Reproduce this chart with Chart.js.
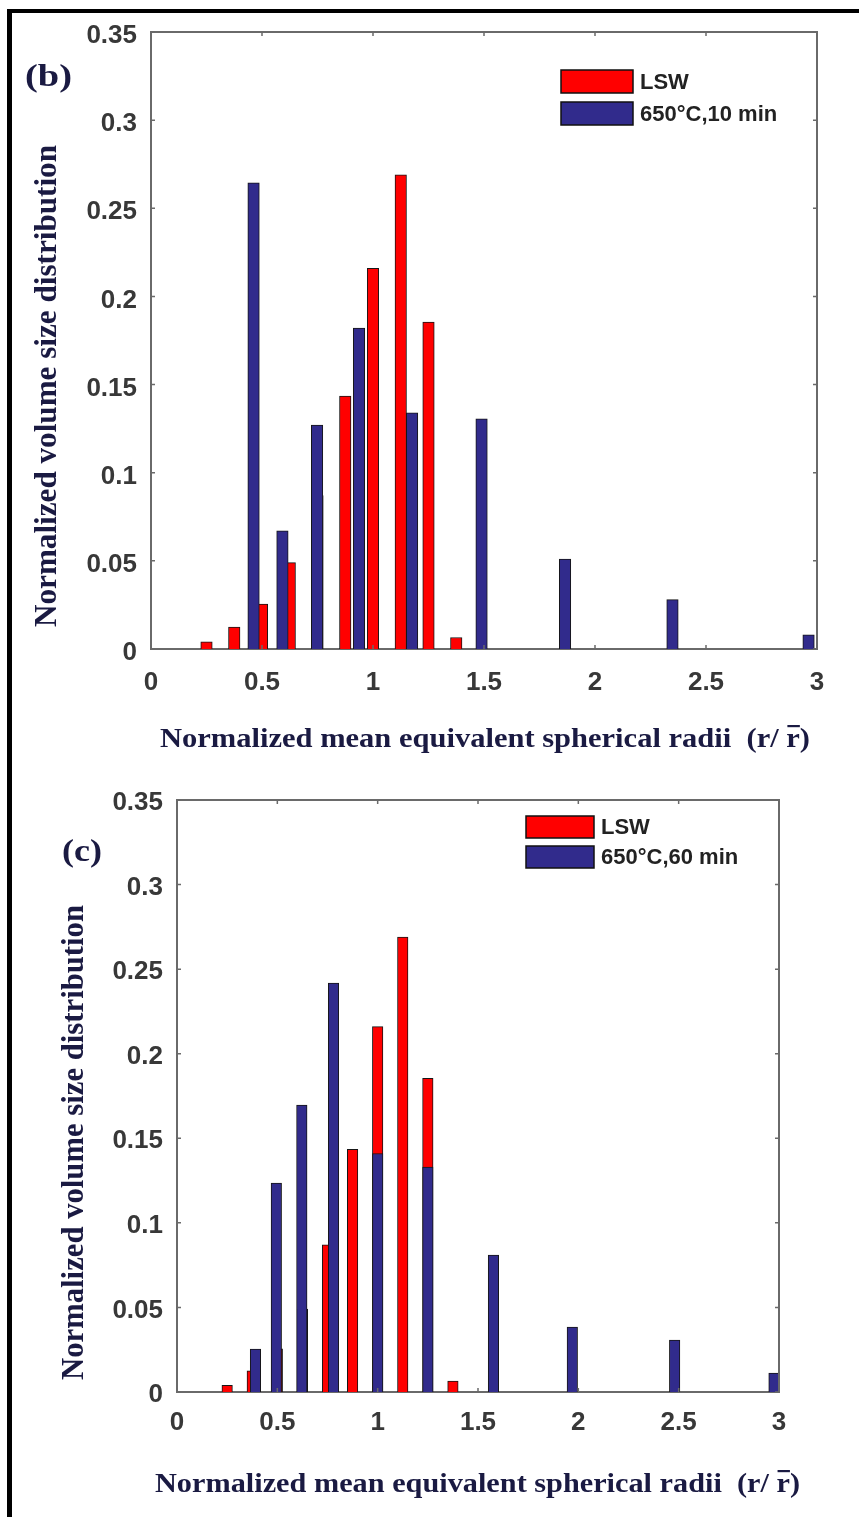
<!DOCTYPE html>
<html>
<head>
<meta charset="utf-8">
<title>Normalized volume size distribution</title>
<script src="https://cdn.jsdelivr.net/npm/chart.js@4.4.1/dist/chart.umd.min.js"></script>
<style>
  html, body { margin: 0; padding: 0; background: #fff; }
  #page { position: relative; width: 859px; height: 1517px; overflow: hidden; background: #fff; }
  .panel { position: absolute; left: 0; width: 859px; }
  #panelB { top: 0; height: 760px; }
  #panelC { top: 760px; height: 757px; }
  .frame { position: absolute; background: #000; z-index: 5; }
  #frameTop { left: 7px; top: 9px; width: 852px; height: 4px; }
  #frameLeft { left: 7px; top: 9px; width: 5px; height: 1508px; }
</style>
</head>
<body>
<div id="page">
  <div class="panel" id="panelB"><canvas id="chartB" width="859" height="760"></canvas></div>
  <div class="panel" id="panelC"><canvas id="chartC" width="859" height="757"></canvas></div>
  <div class="frame" id="frameTop"></div>
  <div class="frame" id="frameLeft"></div>
</div>
<script>
// ---- data -------------------------------------------------------------
// LSW theoretical distribution (same in both panels)
const lswRadii  = [0.125, 0.25, 0.375, 0.5, 0.625, 0.75, 0.875, 1.0, 1.125, 1.25, 1.375, 1.5];
const lswValues = [0, 0.004, 0.0125, 0.0255, 0.049, 0.087, 0.1435, 0.216, 0.269, 0.1855, 0.0065, 0];

// 650 °C, 10 min
const radii10  = [0.462, 0.592, 0.748, 0.937, 1.176, 1.489, 1.865, 2.349, 2.962];
const values10 = [0.2645, 0.067, 0.127, 0.182, 0.134, 0.1305, 0.051, 0.028, 0.008];

// 650 °C, 60 min
const radii60  = [0.391, 0.495, 0.622, 0.78, 1.0, 1.25, 1.577, 1.97, 2.48, 2.975];
const values60 = [0.0254, 0.1235, 0.1697, 0.2418, 0.141, 0.133, 0.081, 0.0384, 0.0307, 0.0112];

// axis ticks
const xTickValues = [0, 0.5, 1, 1.5, 2, 2.5, 3];
const xTickLabels = ['0', '0.5', '1', '1.5', '2', '2.5', '3'];
const yTickValues = [0, 0.05, 0.1, 0.15, 0.2, 0.25, 0.3, 0.35];
const yTickLabels = ['0', '0.05', '0.1', '0.15', '0.2', '0.25', '0.3', '0.35'];

// text
const seriesLSW = 'LSW';
const series10 = '650°C,10 min';
const series60 = '650°C,60 min';
const yTitle = 'Normalized volume size distribution';
const xTitleMain = 'Normalized mean equivalent spherical radii  ';
const xTitleOpen = '(r/ ';
const xTitleBar = 'r';
const xTitleClose = ')';

// ---- styling ------------------------------------------------------------
const RED = '#ff0000';
const BLUE = '#312b8c';
const EDGE = '#161616';
const AXIS = '#6a6a6a';
const TICK_TEXT = '#383838';
const TITLE_TEXT = '#1a1a42';
const SANS = '"Liberation Sans", Arial, sans-serif';
const SERIF = '"Liberation Serif", "Times New Roman", serif';

function pairs(xs, ys) { return xs.map((x, i) => ({ x: x, y: ys[i] })); }

// draws text scaled to a given run length (sx) and glyph height factor (sy)
function fitText(ctx, text, left, baseline, width, sy) {
  const w = ctx.measureText(text).width;
  ctx.save();
  ctx.translate(left, baseline);
  ctx.scale(width / w, sy || 1);
  ctx.fillText(text, 0, 0);
  ctx.restore();
}

function makeDecorations(g) {
  return {
    id: 'decorations',
    afterDraw(chart) {
      const ctx = chart.ctx;
      const a = chart.chartArea;
      const xs = chart.scales.x, ys = chart.scales.y;
      ctx.save();

      // top and right box edges
      ctx.strokeStyle = AXIS;
      ctx.lineWidth = 2;
      ctx.beginPath();
      ctx.moveTo(a.left, a.top); ctx.lineTo(a.right, a.top); ctx.lineTo(a.right, a.bottom);
      ctx.stroke();

      // inward tick marks on all four sides
      ctx.lineWidth = 1.5;
      ctx.beginPath();
      xTickValues.forEach(v => {
        const px = xs.getPixelForValue(v);
        ctx.moveTo(px, a.bottom); ctx.lineTo(px, a.bottom - 4);
        ctx.moveTo(px, a.top); ctx.lineTo(px, a.top + 4);
      });
      yTickValues.forEach(v => {
        const py = ys.getPixelForValue(v);
        ctx.moveTo(a.left, py); ctx.lineTo(a.left + 4, py);
        ctx.moveTo(a.right, py); ctx.lineTo(a.right - 4, py);
      });
      ctx.stroke();

      // legend
      const ds = chart.data.datasets;
      ctx.font = 'bold 22px ' + SANS;
      ctx.textBaseline = 'middle';
      ds.forEach((d, i) => {
        const top = g.legTop + i * g.legStep;
        ctx.fillStyle = d.backgroundColor;
        ctx.fillRect(g.legLeft, top, g.legW, g.legH);
        ctx.strokeStyle = '#111';
        ctx.lineWidth = 1.5;
        ctx.strokeRect(g.legLeft, top, g.legW, g.legH);
        ctx.fillStyle = '#222';
        ctx.fillText(d.label, g.legLeft + g.legW + 7, top + g.legH / 2 + 1);
      });

      // panel letter
      ctx.fillStyle = TITLE_TEXT;
      ctx.textBaseline = 'alphabetic';
      ctx.font = 'bold 32px ' + SERIF;
      fitText(ctx, g.letter, g.letterX, g.letterY, g.letterW);

      // x axis title with an overlined r
      ctx.font = 'bold 28px ' + SERIF;
      const parts = [xTitleMain, xTitleOpen, xTitleBar, xTitleClose];
      const widths = parts.map(p => ctx.measureText(p).width);
      const total = widths.reduce((s, w) => s + w, 0);
      ctx.save();
      ctx.translate(g.xtLeft, g.xtBase);
      ctx.scale(g.xtWidth / total, 1);
      let cx = 0;
      parts.forEach((p, i) => {
        ctx.fillText(p, cx, 0);
        if (p === xTitleBar) {
          ctx.fillRect(cx + 1, -22, widths[i] - 1, 2.2);
        }
        cx += widths[i];
      });
      ctx.restore();

      // y axis title
      ctx.save();
      ctx.translate(g.ytBase, g.ytStart);
      ctx.rotate(-Math.PI / 2);
      ctx.font = 'bold 27px ' + SERIF;
      fitText(ctx, yTitle, 0, 0, g.ytLen, 1.2);
      ctx.restore();

      ctx.restore();
    }
  };
}

function makeChart(id, g, obsLabel, obsX, obsY) {
  const tickFont = { family: SANS, size: 26, weight: 'bold' };
  return new Chart(document.getElementById(id), {
    type: 'bar',
    data: {
      datasets: [
        { label: seriesLSW, data: pairs(lswRadii, lswValues), backgroundColor: RED,
          borderColor: EDGE, borderWidth: 1, barThickness: g.bar, grouped: false, order: 1 },
        { label: obsLabel, data: pairs(obsX, obsY), backgroundColor: BLUE,
          borderColor: EDGE, borderWidth: 1, barThickness: g.bar, grouped: false, order: 0 }
      ]
    },
    options: {
      responsive: false,
      animation: false,
      devicePixelRatio: 1,
      layout: { padding: { left: 0, top: g.top, right: g.right, bottom: 0 } },
      plugins: { legend: { display: false }, tooltip: { enabled: false } },
      scales: {
        x: {
          type: 'linear', min: 0, max: 3, offset: false,
          grid: { display: false, drawTicks: false },
          border: { display: true, color: AXIS, width: 2 },
          afterBuildTicks: s => { s.ticks = xTickValues.map(v => ({ value: v })); },
          ticks: { autoSkip: false, maxRotation: 0, color: TICK_TEXT, font: tickFont,
                   padding: g.xPad, callback: (v, i) => xTickLabels[i] },
          afterFit: s => { s.height = g.xAxisH; }
        },
        y: {
          type: 'linear', min: 0, max: 0.35,
          grid: { display: false, drawTicks: false },
          border: { display: true, color: AXIS, width: 2 },
          afterBuildTicks: s => { s.ticks = yTickValues.map(v => ({ value: v })); },
          ticks: { autoSkip: false, color: TICK_TEXT, font: tickFont,
                   padding: 14, labelOffset: g.yLabOff, callback: (v, i) => yTickLabels[i] },
          afterFit: s => { s.width = g.yAxisW; }
        }
      }
    },
    plugins: [makeDecorations(g)]
  });
}

makeChart('chartB', {
  top: 32, right: 42, xAxisH: 111, yAxisW: 151, xPad: 18, bar: 11.5, yLabOff: 4,
  legLeft: 561, legTop: 70, legStep: 32, legW: 72, legH: 23,
  letter: '(b)', letterX: 25, letterY: 86, letterW: 47,
  xtLeft: 160, xtBase: 747, xtWidth: 650,
  ytBase: 56, ytStart: 627, ytLen: 482
}, series10, radii10, values10);

makeChart('chartC', {
  top: 40, right: 80, xAxisH: 125, yAxisW: 177, xPad: 15, bar: 10.5, yLabOff: 3,
  legLeft: 526, legTop: 56, legStep: 30, legW: 68, legH: 22,
  letter: '(c)', letterX: 62, letterY: 101, letterW: 40,
  xtLeft: 155, xtBase: 732, xtWidth: 645,
  ytBase: 83, ytStart: 620, ytLen: 475
}, series60, radii60, values60);
</script>
</body>
</html>
